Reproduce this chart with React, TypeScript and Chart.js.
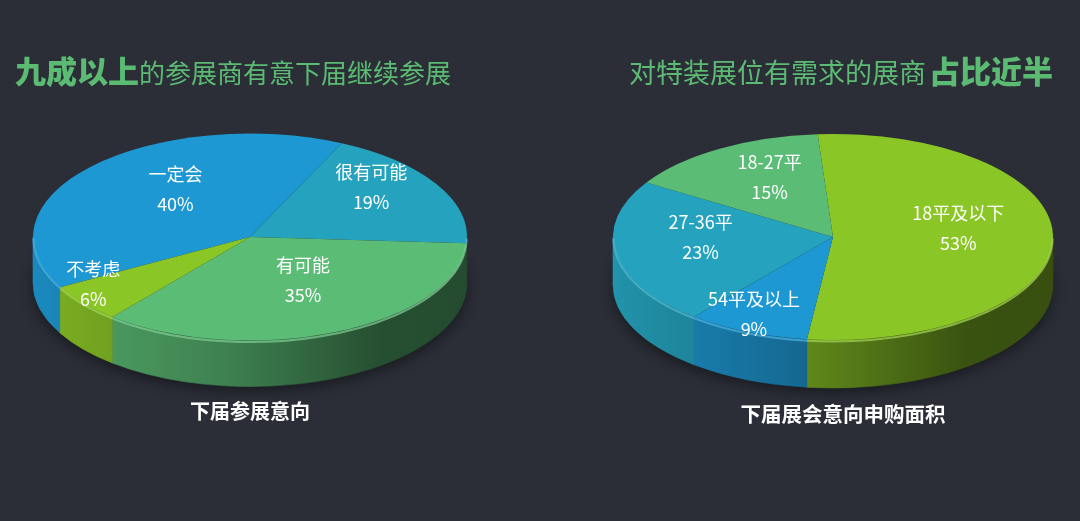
import React, { useEffect, useRef } from "react";
import { Chart, registerables } from "chart.js";

Chart.register(...registerables);

// ---------- data ----------
const leftCategories = ["一定会", "很有可能", "有可能", "不考虑"];
const leftValues = [40, 19, 35, 6];
const rightCategories = ["18平及以下", "54平及以上", "27-36平", "18-27平"];
const rightValues = [53, 9, 23, 15];

// ---------- styles ----------
const BLUE = "#1e98d3";
const TEAL = "#25a3be";
const GREEN = "#5bbc75";
const LIME = "#8bc627";
const leftColors = [BLUE, TEAL, GREEN, LIME];
const rightColors = [LIME, BLUE, TEAL, GREEN];

const BG = "#2b2e37";
const TITLE_GREEN = "#5bbb73";
const FONT = '"Noto Sans CJK SC", "Microsoft YaHei", sans-serif';

function hexToRgb(hex: string): [number, number, number] {
  const h = hex.replace("#", "");
  return [parseInt(h.slice(0, 2), 16), parseInt(h.slice(2, 4), 16), parseInt(h.slice(4, 6), 16)];
}
function shade(hex: string, f: number) {
  const [r, g, b] = hexToRgb(hex);
  return `rgb(${Math.round(r * f)},${Math.round(g * f)},${Math.round(b * f)})`;
}
function tint(hex: string, t: number, a = 1) {
  const [r, g, b] = hexToRgb(hex);
  const m = (c: number) => Math.round(c + (255 - c) * t);
  return `rgba(${m(r)},${m(g)},${m(b)},${a})`;
}

type Pie3DSettings = {
  rotation: number;
  tilt: number;
  depth: number;
  labelFactors: number[];
  labelLift: number;
};

function frontSegments(s: number, e: number): [number, number][] {
  const out: [number, number][] = [];
  for (let n = -2; n <= 3; n++) {
    const lo = Math.max(s, 2 * Math.PI * n);
    const hi = Math.min(e, 2 * Math.PI * n + Math.PI);
    if (hi > lo + 1e-6) out.push([lo, hi]);
  }
  return out;
}

function makePie3d(cfg: Pie3DSettings) {
  return {
    id: "pie3d",
    beforeDatasetsDraw(chart: any) {
      const ctx: CanvasRenderingContext2D = chart.ctx;
      const arcs = chart.getDatasetMeta(0).data as any[];
      ctx.save();
      if (!arcs.length) return;
      const p = arcs[0].getProps(["x", "y", "outerRadius"], true);
      const cx = p.x, cy = p.y, R = p.outerRadius;
      const k = cfg.tilt, d = cfg.depth;
      const colors = chart.data.datasets[0].backgroundColor as string[];

      // soft shadow beneath
      ctx.save();
      ctx.shadowColor = "rgba(0,0,0,0.45)";
      ctx.shadowBlur = 14;
      ctx.shadowOffsetY = 4;
      ctx.beginPath();
      ctx.ellipse(cx, cy + d, R, R * k, 0, 0, Math.PI * 2);
      ctx.fillStyle = "#1d1f26";
      ctx.fill();
      ctx.restore();

      // side walls
      arcs.forEach((arc, i) => {
        const a = arc.getProps(["startAngle", "endAngle"], true);
        const col = colors[i];
        frontSegments(a.startAngle, a.endAngle).forEach(([a1, a2]) => {
          const g = ctx.createLinearGradient(cx - R, 0, cx + R, 0);
          g.addColorStop(0, shade(col, 0.9));
          g.addColorStop(0.45, shade(col, 0.68));
          g.addColorStop(0.8, shade(col, 0.42));
          g.addColorStop(1, shade(col, 0.4));
          ctx.beginPath();
          ctx.ellipse(cx, cy, R, R * k, 0, a1, a2);
          ctx.ellipse(cx, cy + d, R, R * k, 0, a2, a1, true);
          ctx.closePath();
          ctx.fillStyle = g;
          ctx.fill();
          ctx.strokeStyle = g;
          ctx.lineWidth = 0.6;
          ctx.stroke();
        });
      });

      // squash the top face
      ctx.translate(cx, cy);
      ctx.scale(1, k);
      ctx.translate(-cx, -cy);
    },
    afterDatasetsDraw(chart: any) {
      const ctx: CanvasRenderingContext2D = chart.ctx;
      ctx.restore();
      const arcs = chart.getDatasetMeta(0).data as any[];
      if (!arcs.length) return;
      const p = arcs[0].getProps(["x", "y", "outerRadius"], true);
      const cx = p.x, cy = p.y, R = p.outerRadius;
      const k = cfg.tilt;
      const colors = chart.data.datasets[0].backgroundColor as string[];
      const labels = chart.data.labels as string[];
      const values = chart.data.datasets[0].data as number[];

      // rim highlight on the front edge
      ctx.save();
      arcs.forEach((arc, i) => {
        const a = arc.getProps(["startAngle", "endAngle"], true);
        frontSegments(a.startAngle, a.endAngle).forEach(([a1, a2]) => {
          ctx.beginPath();
          ctx.ellipse(cx, cy + 1.5, R - 0.5, R * k, 0, a1, a2);
          ctx.strokeStyle = tint(colors[i], 0.2, 0.75);
          ctx.lineWidth = 2.2;
          ctx.stroke();
        });
      });
      ctx.restore();

      // labels
      ctx.save();
      ctx.fillStyle = "#ffffff";
      ctx.font = `18px ${FONT}`;
      ctx.textAlign = "center";
      ctx.textBaseline = "middle";
      arcs.forEach((arc, i) => {
        const a = arc.getProps(["startAngle", "endAngle"], true);
        const mid = (a.startAngle + a.endAngle) / 2;
        const f = cfg.labelFactors[i];
        const x = cx + R * f * Math.cos(mid);
        const y = cy + cfg.labelLift + R * k * f * Math.sin(mid);
        ctx.fillText(labels[i], x, y - 15);
        ctx.fillText(`${values[i]}%`, x, y + 15);
      });
      ctx.restore();
    },
  };
}

type PieProps = {
  labels: string[];
  values: number[];
  colors: string[];
  settings: Pie3DSettings;
  width: number;
  height: number;
  left: number;
  top: number;
};

function Pie3D({ labels, values, colors, settings, width, height, left, top }: PieProps) {
  const ref = useRef<HTMLCanvasElement>(null);
  useEffect(() => {
    const chart = new Chart(ref.current!, {
      type: "pie",
      data: {
        labels,
        datasets: [{ data: values, backgroundColor: colors, borderWidth: 0, hoverOffset: 0 }],
      },
      options: {
        responsive: false,
        animation: false,
        events: [],
        rotation: settings.rotation,
        layout: { padding: 8 },
        plugins: { legend: { display: false }, tooltip: { enabled: false } },
      },
      plugins: [makePie3d(settings) as any],
    });
    return () => chart.destroy();
  }, []);
  return (
    <canvas
      ref={ref}
      width={width}
      height={height}
      style={{ position: "absolute", left, top, width, height }}
    />
  );
}

export default function App() {
  const boldStyle: React.CSSProperties = { fontWeight: 900, fontSize: 31 };
  return (
    <div
      style={{
        position: "absolute",
        left: 0,
        top: 0,
        width: 1080,
        height: 521,
        background: BG,
        overflow: "hidden",
        fontFamily: FONT,
      }}
    >
      <Pie3D
        labels={leftCategories}
        values={leftValues}
        colors={leftColors}
        settings={{ rotation: 241, tilt: 0.477, depth: 46, labelFactors: [0.47, 0.65, 0.61, 0.94], labelLift: -15 }}
        width={500}
        height={450}
        left={0}
        top={12}
      />
      <Pie3D
        labels={rightCategories}
        values={rightValues}
        colors={rightColors}
        settings={{ rotation: -4, tilt: 0.468, depth: 48, labelFactors: [0.57, 0.92, 0.61, 0.56], labelLift: -10 }}
        width={500}
        height={456}
        left={583}
        top={9}
      />
      <div
        style={{
          position: "absolute",
          left: 15,
          top: 50,
          height: 40,
          lineHeight: "40px",
          color: TITLE_GREEN,
          fontSize: 26,
          whiteSpace: "nowrap",
        }}
      >
        <span style={boldStyle}>九成以上</span>
        <span>的参展商有意下届继续参展</span>
      </div>
      <div
        style={{
          position: "absolute",
          right: 27,
          top: 50,
          height: 40,
          lineHeight: "40px",
          color: TITLE_GREEN,
          fontSize: 27,
          whiteSpace: "nowrap",
          textAlign: "right",
        }}
      >
        <span>对特装展位有需求的展商</span>
        <span style={{ ...boldStyle, marginLeft: 3 }}>占比近半</span>
      </div>
      <div
        style={{
          position: "absolute",
          left: 150,
          width: 200,
          top: 396,
          lineHeight: "30px",
          textAlign: "center",
          color: "#ffffff",
          fontWeight: 700,
          fontSize: 20,
        }}
      >
        下届参展意向
      </div>
      <div
        style={{
          position: "absolute",
          left: 693,
          width: 300,
          top: 398,
          lineHeight: "30px",
          textAlign: "center",
          color: "#ffffff",
          fontWeight: 700,
          fontSize: 20.5,
        }}
      >
        下届展会意向申购面积
      </div>
    </div>
  );
}
